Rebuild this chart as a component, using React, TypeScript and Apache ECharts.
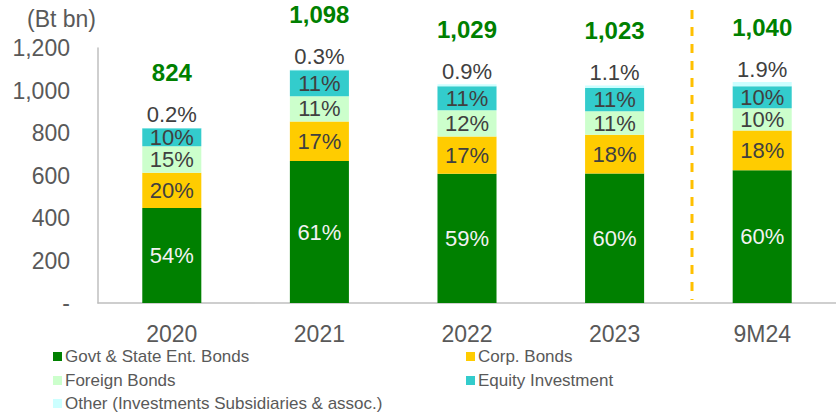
import React, { useEffect, useRef } from "react";
import * as echarts from "echarts";

const categories = ["2020", "2021", "2022", "2023", "9M24"];
const govtBonds = [447, 668, 608, 610, 625];
const corpBonds = [166, 186, 176, 182, 187];
const foreignBonds = [125, 119, 123, 110, 104];
const equityInv = [84, 122, 113, 110, 104];
const otherInv = [2, 3, 9, 11, 20];
const totalLabels = ["824", "1,098", "1,029", "1,023", "1,040"];
const govtPct = ["54%", "61%", "59%", "60%", "60%"];
const corpPct = ["20%", "17%", "17%", "18%", "18%"];
const foreignPct = ["15%", "11%", "12%", "11%", "10%"];
const equityPct = ["10%", "11%", "11%", "11%", "10%"];
const otherPct = ["0.2%", "0.3%", "0.9%", "1.1%", "1.9%"];
const yTicks = [0, 200, 400, 600, 800, 1000, 1200];

const FONT = "'Liberation Sans', Arial, sans-serif";
const GREY = "#595959";

export default function App() {
  const ref = useRef<HTMLDivElement>(null);
  useEffect(() => {
    document.body.style.margin = "0";
    const chart = echarts.init(ref.current!, null, { renderer: "svg" });
    const mk = (
      name: string,
      data: number[],
      color: string,
      labels: string[],
      labelColor: string
    ) => ({
      name,
      type: "bar",
      stack: "a",
      barWidth: "40%",
      data,
      itemStyle: { color },
      label: {
        show: true,
        position: "inside",
        fontSize: 22,
        fontFamily: FONT,
        color: labelColor,
        formatter: (p: any) => labels[p.dataIndex],
      },
    });
    const series: any[] = [
      mk("Govt & State Ent. Bonds", govtBonds, "#008000", govtPct, "#f2f2f2"),
      mk("Corp. Bonds", corpBonds, "#ffcc00", corpPct, "#404040"),
      mk("Foreign Bonds", foreignBonds, "#ccffcc", foreignPct, "#404040"),
      mk("Equity Investment", equityInv, "#33cccc", equityPct, "#404040"),
      {
        name: "Other (Investments Subsidiaries & assoc.)",
        type: "bar",
        stack: "a",
        barWidth: "40%",
        data: otherInv,
        itemStyle: { color: "#ccffff" },
        label: {
          show: true,
          position: "top",
          distance: 1,
          fontFamily: FONT,
          formatter: (p: any) =>
            `{t|${totalLabels[p.dataIndex]}}\n{p|${otherPct[p.dataIndex]}}`,
          rich: {
            t: {
              fontSize: 24,
              fontWeight: "bold",
              color: "#008000",
              fontFamily: FONT,
              lineHeight: 60,
            },
            p: {
              fontSize: 22,
              color: "#404040",
              fontFamily: FONT,
              lineHeight: 24,
            },
          },
        },
      },
    ];
    const legendPos = [
      { left: 53, top: 348 },
      { left: 466, top: 348 },
      { left: 53, top: 372 },
      { left: 466, top: 372 },
      { left: 53, top: 395 },
    ];
    const legends = series.map((s, i) => ({
      data: [s.name],
      left: legendPos[i].left,
      top: legendPos[i].top,
      padding: 0,
      icon: "rect",
      itemWidth: 9,
      itemHeight: 9,
      itemGap: 0,
      selectedMode: false,
      textStyle: { fontSize: 17, color: GREY, fontFamily: FONT, padding: [0, 0, 0, -2] },
    }));
    chart.setOption({
      animation: false,
      grid: { left: 98, right: 0, top: 48, bottom: 109 },
      xAxis: {
        type: "category",
        data: categories,
        axisLine: { lineStyle: { color: "#bfbfbf", width: 1.5 } },
        axisTick: { show: false },
        axisLabel: { fontSize: 23, color: GREY, fontFamily: FONT, margin: 19 },
      },
      yAxis: {
        type: "value",
        min: yTicks[0],
        max: yTicks[yTicks.length - 1],
        interval: 200,
        splitLine: { show: false },
        axisLine: { show: true, lineStyle: { color: "#bfbfbf", width: 1.5 } },
        axisTick: { show: false },
        axisLabel: {
          fontSize: 23,
          color: GREY,
          fontFamily: FONT,
          margin: 28,
          formatter: (v: number) => (v === 0 ? "-" : v.toLocaleString("en-US")),
        },
      },
      legend: legends,
      graphic: [
        {
          type: "text",
          left: 27,
          top: 7,
          style: { text: "(Bt bn)", fontSize: 23, fill: GREY, fontFamily: FONT },
        },
        {
          type: "line",
          shape: { x1: 692, y1: 10, x2: 692, y2: 300 },
          style: { stroke: "#ffc000", lineWidth: 3, lineDash: [9, 8] },
        },
      ],
      series,
    });
    return () => chart.dispose();
  }, []);
  return <div ref={ref} style={{ width: 836, height: 412 }} />;
}
